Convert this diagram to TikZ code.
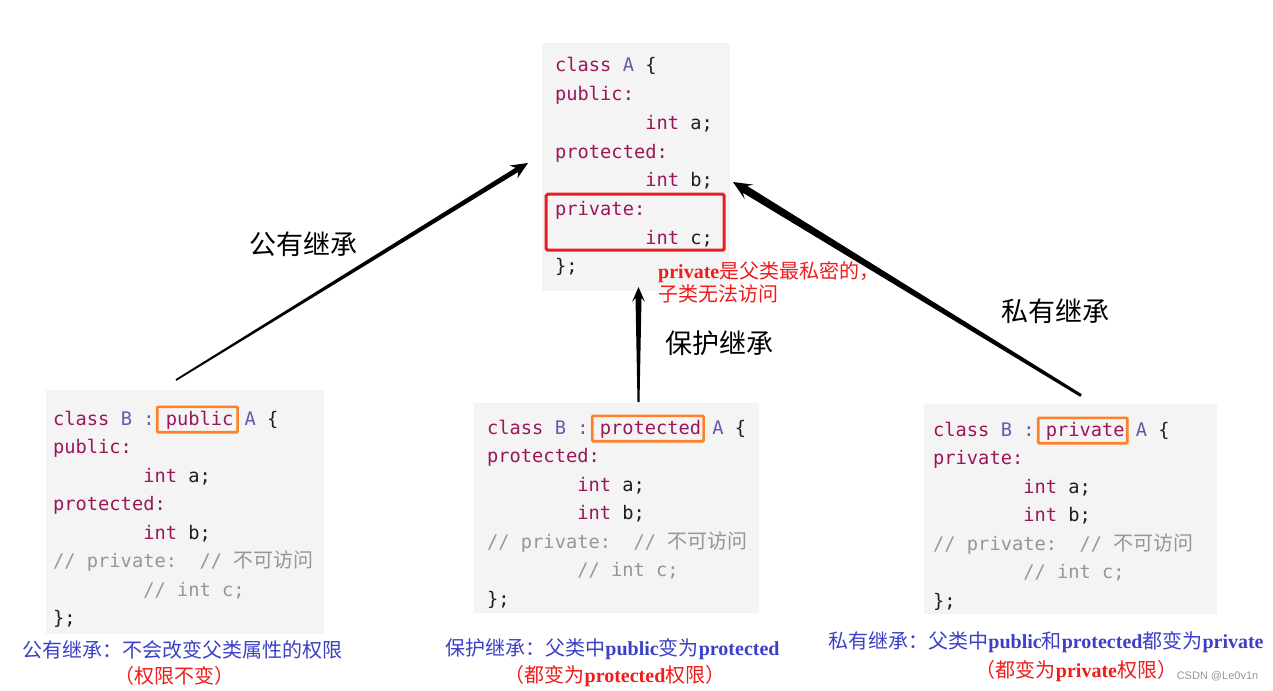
\documentclass[tikz,border=0pt]{standalone}
\usepackage{fontspec}
\setmainfont{Liberation Serif}
\newfontfamily\cjk{Noto Sans CJK SC}
\newfontfamily\codef{DejaVu Sans Mono}
\newfontfamily\wmf{Liberation Sans}
\usetikzlibrary{calc}
\definecolor{kwc}{RGB}{155,22,90}
\definecolor{cnc}{RGB}{108,86,168}
\definecolor{cmc}{RGB}{150,150,150}
\definecolor{plc}{RGB}{30,30,30}
\definecolor{bgc}{RGB}{244,244,244}
\definecolor{hlo}{RGB}{255,128,40}
\definecolor{hlr}{RGB}{232,28,36}
\definecolor{capb}{RGB}{60,64,198}
\definecolor{capr}{RGB}{240,28,28}
\newcommand\kw[1]{\textcolor{kwc}{#1}}
\newcommand\cn[1]{\textcolor{cnc}{#1}}
\newcommand\cm[1]{\textcolor{cmc}{#1}}
\newcommand\ind{\hphantom{00000000}}
\newcommand\cmline{\cm{//\ private:\ \ //\ {\cjk\fontsize{20}{20}\selectfont 不可访问}}}
\newcommand\taperarrow[7]{%
  \coordinate (ta-h) at ($(#2)!#5!(#1)$);
  \coordinate (ta-n) at ($(#2)!#6!(#1)$);
  \fill[black] ($(#1)!#3!90:(#2)$) -- ($(ta-n)!#4!90:(#2)$) -- ($(ta-h)!#7!90:(#2)$) -- (#2)
    -- ($(ta-h)!#7!-90:(#2)$) -- ($(ta-n)!#4!-90:(#2)$) -- ($(#1)!#3!-90:(#2)$) -- cycle;}
\tikzset{
  codeline/.style={anchor=base west, inner sep=0pt, text=plc, font=\codef\fontsize{18.7}{22}\selectfont},
  codebg/.style={fill=bgc, draw=none, anchor=north west, inner sep=0pt},
  hlbox/.style={draw=hlo, line width=2.6pt, rounded corners=1pt, inner sep=0pt},
  redbox/.style={draw=hlr, line width=3pt, rounded corners=1.5pt, inner sep=0pt},
  lab/.style={inner sep=0pt, text=black, font=\cjk\fontsize{27}{30}\selectfont},
  anno/.style={anchor=base west, inner sep=0pt, text=capr, font=\fontsize{20}{24}\selectfont},
  captext/.style={anchor=base, inner sep=0pt, font=\fontsize{20}{24}\selectfont},
}
\begin{document}
\begin{tikzpicture}[x=1pt,y=-1pt]
\useasboundingbox (0,0) rectangle (1273,690);
\fill[white] (0,0) rectangle (1273,690);

% code backgrounds
\node[codebg, minimum width=188pt, minimum height=248pt] (bgA) at (542,43) {};
\node[codebg, minimum width=278pt, minimum height=244pt] (bgL) at (46,390) {};
\node[codebg, minimum width=285pt, minimum height=210pt] (bgM) at (474,403) {};
\node[codebg, minimum width=293pt, minimum height=210pt] (bgR) at (924,404) {};

% class A
\foreach \t [count=\i] in {
  {\kw{class} \cn{A} \{},
  {\kw{public:}},
  {\ind\kw{int} a;},
  {\kw{protected:}},
  {\ind\kw{int} b;},
  {\kw{private:}},
  {\ind\kw{int} c;},
  {\};}}
  {\node[codeline] (a\i) at (555,{72+28.7*(\i-1)}) {\t};}

% public inheritance
\foreach \t [count=\i] in {
  {\kw{class} \cn{B :} \kw{public} \cn{A} \{},
  {\kw{public:}},
  {\ind\kw{int} a;},
  {\kw{protected:}},
  {\ind\kw{int} b;},
  {\cmline},
  {\ind\cm{// int c;}},
  {\};}}
  {\node[codeline] (l\i) at (53,{425+28.5*(\i-1)}) {\t};}

% protected inheritance
\foreach \t [count=\i] in {
  {\kw{class} \cn{B :} \kw{protected} \cn{A} \{},
  {\kw{protected:}},
  {\ind\kw{int} a;},
  {\ind\kw{int} b;},
  {\cmline},
  {\ind\cm{// int c;}},
  {\};}}
  {\node[codeline] (m\i) at (487,{434+28.5*(\i-1)}) {\t};}

% private inheritance
\foreach \t [count=\i] in {
  {\kw{class} \cn{B :} \kw{private} \cn{A} \{},
  {\kw{private:}},
  {\ind\kw{int} a;},
  {\ind\kw{int} b;},
  {\cmline},
  {\ind\cm{// int c;}},
  {\};}}
  {\node[codeline] (r\i) at (933,{436+28.5*(\i-1)}) {\t};}

% highlight boxes
\node[redbox, minimum width=178pt, minimum height=56pt] (rbox) at (635.2,222.2) {};
\node[hlbox, minimum width=80.3pt, minimum height=25.4pt] (hlL) at (197.4,419.5) {};
\node[hlbox, minimum width=111.3pt, minimum height=25.4pt] (hlM) at (647.9,428.5) {};
\node[hlbox, minimum width=89pt, minimum height=25.4pt] (hlR) at (1082.7,430.5) {};

% arrows
\coordinate (pubS) at (176,380);
\coordinate (pubE) at (528,163);
\coordinate (proS) at (638.5,402);
\coordinate (proE) at (638.5,287);
\coordinate (priS) at (1081,395.5);
\coordinate (priE) at (733,182);
\taperarrow{pubS}{pubE}{0.9pt}{2.5pt}{17pt}{13pt}{7.5pt}
\taperarrow{proS}{proE}{1pt}{3pt}{15pt}{11pt}{6.5pt}
\taperarrow{priS}{priE}{1.5pt}{4pt}{19pt}{14pt}{8.5pt}

% arrow labels
\node[lab] (lpub) at (303.5,244) {公有继承};
\node[lab] (lpro) at (719.5,343) {保护继承};
\node[lab] (lpri) at (1055.5,311) {私有继承};

% annotation
\node[anno] (n1) at (658,278) {\textbf{private}{\cjk 是父类最私密的，}};
\node[anno] (n2) at (658,301) {{\cjk 子类无法访问}};

% captions
\node[captext, text=capb] (c1a) at (182.5,657) {{\cjk 公有继承：不会改变父类属性的权限}};
\node[captext, text=capr] (c1b) at (174,683) {{\cjk （权限不变）}};
\node[captext, text=capb] (c2a) at (612.5,655) {{\cjk 保护继承：父类中}\textbf{public}{\cjk 变为}\textbf{protected}};
\node[captext, text=capr] (c2b) at (615,682) {{\cjk （都变为}\textbf{protected}{\cjk 权限）}};
\node[captext, text=capb] (c3a) at (1046,648) {{\cjk 私有继承：父类中}\textbf{public}{\cjk 和}\textbf{protected}{\cjk 都变为}\textbf{private}};
\node[captext, text=capr] (c3b) at (1076.5,677) {{\cjk （都变为}\textbf{private}{\cjk 权限）}};

% watermark
\node[inner sep=0pt, text=cmc, font=\wmf\fontsize{11}{13}\selectfont] (wm) at (1217.5,676) {CSDN @Le0v1n};
\end{tikzpicture}
\end{document}
